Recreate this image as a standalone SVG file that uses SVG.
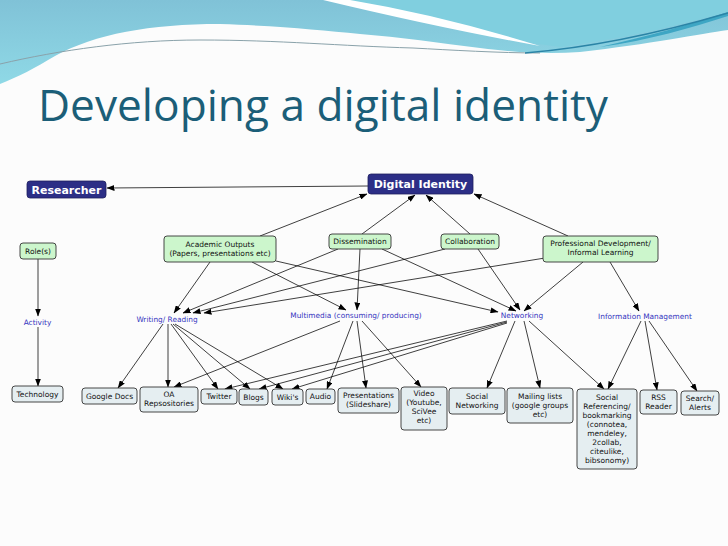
<svg xmlns="http://www.w3.org/2000/svg" width="728" height="546" viewBox="0 0 728 546">
<defs>
<linearGradient id="bandGrad" x1="0" y1="0" x2="0" y2="1">
<stop offset="0" stop-color="#80c2d7"/>
<stop offset="1" stop-color="#8fd9e6"/>
</linearGradient>
<marker id="arr" markerUnits="userSpaceOnUse" markerWidth="8" markerHeight="6" refX="7.5" refY="3" orient="auto">
<path d="M0,0 L8,3 L0,6 Z" fill="#000"/>
</marker>
<style>
.g rect{fill:#ccf6cc;stroke:#333;stroke-width:0.9}
.b rect{fill:#e5eef1;stroke:#333;stroke-width:0.9}
.t{font-family:"DejaVu Sans",Verdana,sans-serif;font-size:7.5px;fill:#111;text-anchor:middle}
.lbl{font-family:"DejaVu Sans",Verdana,sans-serif;font-size:7.4px;fill:#3636c0;text-anchor:middle}
.hd rect{fill:#2c2e86;stroke:#1e1f5e;stroke-width:0.8}
.hdt{font-family:"DejaVu Sans",Verdana,sans-serif;font-size:11px;font-weight:bold;fill:#fff;text-anchor:middle}
#connectors line{stroke:#000;stroke-width:0.75;marker-end:url(#arr)}
</style>
</defs>
<rect width="728" height="546" fill="#fcfcfc"/>
<!-- background waves -->
<path d="M0,0 H728 V30 C700,34 650,44 580,52 C550,54 520,53 480,48 C440,43 400,37 360,34 C320,30 280,26 220,24 C150,24 95,34 55,56 C35,68 18,77 0,84 Z" fill="url(#bandGrad)"/>
<path d="M350,0 H728 V12 C690,22 640,36 560,47 C500,40 420,20 350,0 Z" fill="#80cfdf"/>
<path d="M323,0 L350,0 Q440,15 540,46 Q440,28 323,0 Z" fill="#ffffff"/>
<path d="M0,64 C60,50 130,40 200,40 C280,40 340,46 413,48 C450,50 500,53 540,53" fill="none" stroke="#8aa2aa" stroke-width="1"/>
<path d="M600,47 C650,40 690,28 728,16 L728,12 C690,24 650,36 600,47 Z" fill="#3ea6c4"/>
<path d="M525,53 C600,47 670,30 728,13" fill="none" stroke="#2a84a6" stroke-width="1.4"/>
<text x="38" y="121" font-family="'Open Sans',Lato,sans-serif" font-size="44" fill="#1b5e78" textLength="570" lengthAdjust="spacingAndGlyphs">Developing a digital identity</text>

<g id="connectors">
<line x1="368" y1="186" x2="107" y2="188"/>
<line x1="260" y1="236" x2="367" y2="194"/>
<line x1="362" y1="234" x2="415" y2="195"/>
<line x1="470" y1="234" x2="426" y2="195"/>
<line x1="568" y1="236" x2="474" y2="194"/>
<line x1="38" y1="259" x2="38" y2="316"/>
<line x1="38" y1="327" x2="38" y2="386"/>
<line x1="210" y1="262" x2="174" y2="313"/>
<line x1="252" y1="262" x2="346" y2="310"/>
<line x1="276" y1="261" x2="498" y2="312"/>
<line x1="338" y1="249" x2="183" y2="313"/>
<line x1="360" y1="249" x2="357" y2="310"/>
<line x1="382" y1="249" x2="516" y2="311"/>
<line x1="445" y1="249" x2="193" y2="313"/>
<line x1="478" y1="249" x2="520" y2="310"/>
<line x1="545" y1="258" x2="204" y2="313"/>
<line x1="583" y1="262" x2="524" y2="311"/>
<line x1="610" y1="262" x2="639" y2="311"/>
<line x1="163" y1="324" x2="118" y2="388"/>
<line x1="168" y1="324" x2="168" y2="387"/>
<line x1="171" y1="324" x2="218" y2="389"/>
<line x1="173" y1="324" x2="250" y2="389"/>
<line x1="175" y1="324" x2="283" y2="389"/>
<line x1="340" y1="321" x2="174" y2="387"/>
<line x1="353" y1="321" x2="327" y2="389"/>
<line x1="357" y1="321" x2="366" y2="388"/>
<line x1="362" y1="321" x2="421" y2="387"/>
<line x1="507" y1="321" x2="225" y2="389"/>
<line x1="507" y1="322" x2="259" y2="389"/>
<line x1="507" y1="323" x2="292" y2="389"/>
<line x1="515" y1="321" x2="487" y2="388"/>
<line x1="524" y1="321" x2="540" y2="388"/>
<line x1="529" y1="321" x2="604" y2="389"/>
<line x1="641" y1="321" x2="608" y2="389"/>
<line x1="645" y1="321" x2="657" y2="390"/>
<line x1="649" y1="321" x2="697" y2="391"/>
</g>

<g id="researcher" class="hd"><rect x="27" y="181" width="79" height="17" rx="3"/><text class="hdt" x="66.5" y="193.5">Researcher</text></g>
<g id="digital-identity" class="hd"><rect x="368" y="174" width="105" height="20" rx="3"/><text class="hdt" x="420.5" y="188">Digital Identity</text></g>

<g id="roles" class="g"><rect x="20" y="243" width="36" height="16" rx="3"/><text class="t" x="38" y="253.8">Role(s)</text></g>
<g id="academic-outputs" class="g"><rect x="164" y="236" width="112" height="26" rx="3"/><text class="t" x="220" y="246.8">Academic Outputs</text><text class="t" x="220" y="255.8">(Papers, presentations etc)</text></g>
<g id="dissemination" class="g"><rect x="329" y="234" width="62" height="15" rx="3"/><text class="t" x="360" y="244.3">Dissemination</text></g>
<g id="collaboration" class="g"><rect x="441" y="234" width="58" height="15" rx="3"/><text class="t" x="470" y="244.3">Collaboration</text></g>
<g id="professional-development" class="g"><rect x="543" y="236" width="115" height="26" rx="3"/><text class="t" x="600.5" y="245.8">Professional Development/</text><text class="t" x="600.5" y="254.8">Informal Learning</text></g>

<g id="activity"><text class="lbl" x="37.5" y="324.5">Activity</text></g>
<g id="writing-reading"><text class="lbl" x="167" y="321.5">Writing/ Reading</text></g>
<g id="multimedia"><text class="lbl" x="356" y="317.5">Multimedia (consuming/ producing)</text></g>
<g id="networking"><text class="lbl" x="522" y="317.5">Networking</text></g>
<g id="information-management"><text class="lbl" x="645" y="318.5">Information Management</text></g>

<g id="technology" class="b"><rect x="12" y="386" width="51" height="16" rx="3"/><text class="t" x="37.5" y="396.8">Technology</text></g>
<g id="google-docs" class="b"><rect x="82" y="388" width="55" height="16" rx="3"/><text class="t" x="109.5" y="398.8">Google Docs</text></g>
<g id="oa-repositories" class="b"><rect x="140" y="387" width="58" height="25" rx="3"/><text class="t" x="169" y="397">OA</text><text class="t" x="169" y="406">Repsositories</text></g>
<g id="twitter" class="b"><rect x="201" y="389" width="36" height="15" rx="3"/><text class="t" x="219" y="399.3">Twitter</text></g>
<g id="blogs" class="b"><rect x="239" y="389" width="29" height="16" rx="3"/><text class="t" x="253.5" y="399.8">Blogs</text></g>
<g id="wikis" class="b"><rect x="272" y="389" width="31" height="16" rx="3"/><text class="t" x="287.5" y="399.8">Wiki's</text></g>
<g id="audio" class="b"><rect x="306" y="389" width="29" height="15" rx="3"/><text class="t" x="320.5" y="399.3">Audio</text></g>
<g id="presentations" class="b"><rect x="338" y="388" width="61" height="25" rx="3"/><text class="t" x="368.5" y="398">Presentations</text><text class="t" x="368.5" y="407">(Slideshare)</text></g>
<g id="video" class="b"><rect x="401" y="387" width="46" height="43" rx="3"/><text class="t" x="424" y="396">Video</text><text class="t" x="424" y="405">(Youtube,</text><text class="t" x="424" y="414">SciVee</text><text class="t" x="424" y="423">etc)</text></g>
<g id="social-networking" class="b"><rect x="449" y="388" width="56" height="26" rx="3"/><text class="t" x="477" y="399">Social</text><text class="t" x="477" y="408">Networking</text></g>
<g id="mailing-lists" class="b"><rect x="507" y="388" width="66" height="35" rx="3"/><text class="t" x="540" y="399">Mailing lists</text><text class="t" x="540" y="408">(google groups</text><text class="t" x="540" y="417">etc)</text></g>
<g id="social-referencing" class="b"><rect x="577" y="389" width="60" height="80" rx="3"/><text class="t" x="607" y="399.5">Social</text><text class="t" x="607" y="408.5">Referencing/</text><text class="t" x="607" y="417.5">bookmarking</text><text class="t" x="607" y="426.5">(connotea,</text><text class="t" x="607" y="435.5">mendeley,</text><text class="t" x="607" y="444.5">2collab,</text><text class="t" x="607" y="453.5">citeulike,</text><text class="t" x="607" y="462.5">bibsonomy)</text></g>
<g id="rss-reader" class="b"><rect x="640" y="390" width="37" height="24" rx="3"/><text class="t" x="658.5" y="400">RSS</text><text class="t" x="658.5" y="409">Reader</text></g>
<g id="search-alerts" class="b"><rect x="681" y="391" width="38" height="24" rx="3"/><text class="t" x="700" y="401">Search/</text><text class="t" x="700" y="410">Alerts</text></g>
</svg>
